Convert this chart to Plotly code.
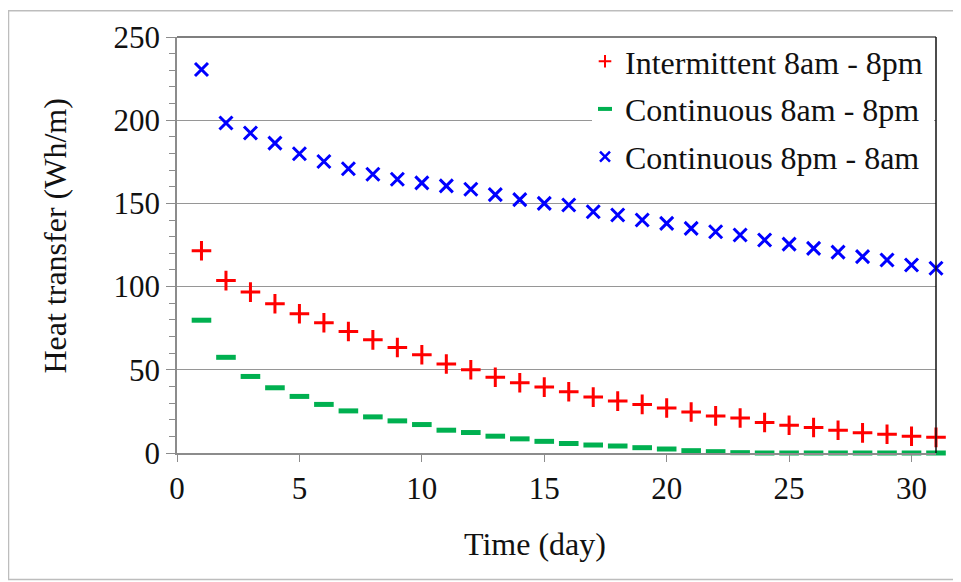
import plotly.graph_objects as go

days = list(range(1, 32))
intermittent_day = [121.5, 103.6, 96.7, 89.7, 83.7, 78.3, 73.0, 68.0, 63.4, 59.0,
                    53.5, 50.0, 45.5, 42.2, 39.6, 36.8, 33.6, 31.2, 29.2, 27.0,
                    24.6, 22.3, 21.0, 18.3, 16.7, 15.3, 13.7, 12.1, 11.3, 10.1, 9.4]
continuous_day = [79.8, 57.5, 46.0, 39.2, 34.0, 29.2, 25.3, 21.7, 19.3, 17.1,
                  13.7, 12.3, 10.1, 8.5, 7.0, 5.7, 4.8, 4.2, 3.2, 2.4,
                  1.4, 0.8, 0.2, 0.0, 0.0, 0.0, 0.0, 0.0, 0.0, 0.0, 0.0]
continuous_night = [230.5, 198.3, 192.3, 186.2, 179.8, 175.2, 170.8, 167.5, 164.5, 162.3,
                    160.5, 158.5, 155.3, 152.3, 150.0, 149.0, 145.0, 143.0, 140.0, 138.0,
                    135.0, 133.0, 131.0, 128.0, 125.5, 123.0, 120.7, 118.0, 116.0, 113.0, 111.0]

names = ["Intermittent 8am - 8pm", "Continuous 8am - 8pm", "Continuous 8pm - 8am"]
colors = ["#ff0000", "#00b050", "#0000ff"]
series = [intermittent_day, continuous_day, continuous_night]
symbols = ["cross-thin", "line-ew", "x-thin"]
sizes = [14, 14, 13]
widths = [3, 5, 3]
leg_sizes = [9, 10, 10]
leg_widths = [2, 4, 2.5]

FONT = "'Liberation Serif', 'Times New Roman', Times, 'DejaVu Serif', serif"
TXT = "#111111"

fig = go.Figure()
for i in range(3):
    fig.add_trace(go.Scatter(
        x=days, y=series[i], mode="markers", name=names[i], showlegend=False,
        marker=dict(symbol=symbols[i], size=sizes[i], color=colors[i],
                    line=dict(color=colors[i], width=widths[i])),
        cliponaxis=False))
for i in range(3):
    fig.add_trace(go.Scatter(
        x=[None], y=[None], mode="markers", name=names[i], legendgroup=f"g{i}",
        marker=dict(symbol=symbols[i], size=leg_sizes[i], color=colors[i],
                    line=dict(color=colors[i], width=leg_widths[i]))))

# page has an 8px body margin; figure coords = page coords - 8
W, H = 953, 574
L, R, T, B = 169, 25, 26, 129
pw, ph = W - L - R, H - T - B
OFF = 8

def px(xp):
    return (xp - OFF - L) / pw

def py(yp):
    return (H - B - (yp - OFF)) / ph

fig.update_layout(
    width=W, height=H,
    margin=dict(l=L, r=R, t=T, b=B, pad=0),
    paper_bgcolor="white", plot_bgcolor="white",
    font=dict(family=FONT, size=31, color=TXT),
    showlegend=True,
    legend=dict(x=px(585), y=py(31), xanchor="left", yanchor="top",
                bgcolor="rgba(255,255,255,0)", borderwidth=0, traceorder="grouped",
                tracegroupgap=3, font=dict(family=FONT, size=32, color=TXT)),
    xaxis=dict(range=[0, 31], tickmode="array", tickvals=[0, 5, 10, 15, 20, 25, 30],
               showgrid=False, zeroline=False, showline=True, linecolor="#8c8c8c",
               linewidth=1.5, ticks="outside", ticklen=7, tickcolor="#8c8c8c",
               tickfont=dict(family=FONT, size=31, color=TXT)),
    yaxis=dict(range=[0, 250], dtick=50, showgrid=True, gridcolor="#969696",
               gridwidth=1.3, zeroline=False, showline=True, linecolor="#8c8c8c",
               linewidth=1.5, ticks="outside", ticklen=9, tickcolor="#8c8c8c",
               minor=dict(dtick=10, ticks="outside", ticklen=6, tickcolor="#8c8c8c",
                          showgrid=False),
               tickfont=dict(family=FONT, size=31, color=TXT)),
    annotations=[
        dict(text="Heat transfer (Wh/m)", x=px(55), y=py(235), xref="paper", yref="paper",
             textangle=-90, showarrow=False, xanchor="center", yanchor="middle",
             font=dict(family=FONT, size=32, color=TXT)),
        dict(text="Time (day)", x=px(535), y=py(545), xref="paper", yref="paper",
             showarrow=False, xanchor="center", yanchor="middle",
             font=dict(family=FONT, size=32, color=TXT)),
    ],
    shapes=[
        # white backing behind the legend (hides the gridline; no markers there)
        dict(type="rect", xref="paper", yref="paper", x0=px(592), x1=px(934),
             y0=py(182), y1=py(36), line=dict(width=0), fillcolor="white",
             layer="above"),
        dict(type="line", xref="paper", yref="paper", x0=0, x1=1, y0=1, y1=1,
             line=dict(color="#555555", width=1.5)),
        dict(type="line", xref="paper", yref="paper", x0=1, x1=1, y0=0, y1=1,
             line=dict(color="#111111", width=1.5)),
        dict(type="rect", xref="paper", yref="paper", x0=px(8.5), x1=px(990),
             y0=py(580.5), y1=py(7.5), line=dict(color="#bdbdbd", width=1.5),
             layer="below"),
    ],
)

fig.write_html("out.html")
